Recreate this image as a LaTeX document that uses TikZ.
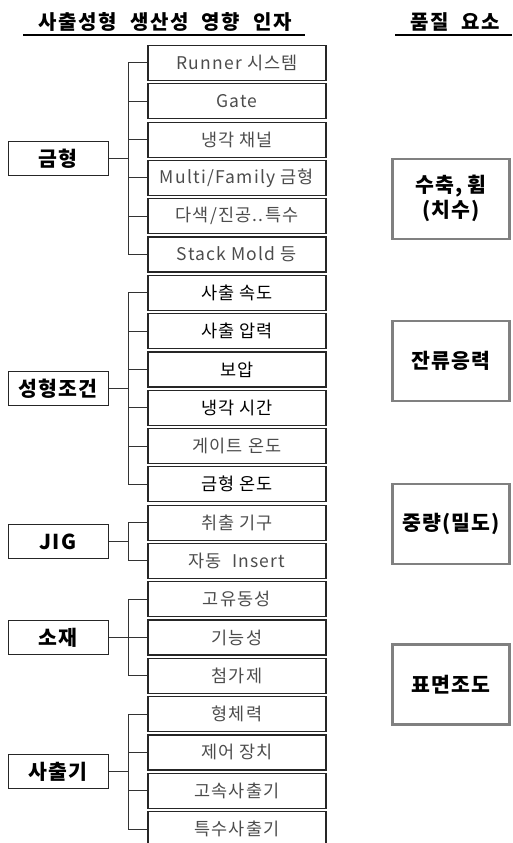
\documentclass[tikz,border=0pt]{standalone}
\usepackage{fontspec}
\setmainfont{Noto Sans CJK KR}
\newfontfamily\krchild[LetterSpace=7]{Noto Sans CJK KR}
\newfontfamily\krpar[LetterSpace=5]{Noto Sans CJK KR}
\newfontfamily\krtitle[LetterSpace=9,WordSpace=2]{Noto Sans CJK KR}
\begin{document}
\begin{tikzpicture}[x=1pt,y=-1pt,
  cbox/.style={draw=black!85, line width=1.2pt, minimum width=178pt, minimum height=35pt,
    inner sep=0pt, font=\krchild\fontsize{17.5}{20}\selectfont, text=black!70},
  cboxb/.style={cbox, text=black},
  pbox/.style={draw=black!85, line width=1pt, minimum width=100pt, minimum height=34pt,
    inner sep=0pt, font=\krpar\fontsize{20.5}{24}\selectfont\bfseries},
  qbox/.style={draw=black!50, line width=2.4pt, minimum width=117pt, minimum height=80pt,
    inner sep=0pt, align=center, font=\krpar\fontsize{20.5}{25}\selectfont\bfseries},
  title/.style={font=\krtitle\fontsize{20}{24}\selectfont\bfseries, inner sep=0pt},
  conn/.style={draw=black!80, line width=1pt},
  uline/.style={draw=black, line width=1.4pt}]
\useasboundingbox (0,0) rectangle (512,843);

% titles
\node[title] (t1) at (165,22) {사출성형 생산성 영향 인자};
\node[title] (t2) at (455,22) {품질 요소};
\draw[uline] (23,35) -- (305,35);
\draw[uline] (395,35) -- (512,35);

\coordinate (tk) at (128,0);

% children
\node[cbox]  (c0)  at (237,63.0)  {Runner 시스템};
\node[cbox]  (c1)  at (237,101.3) {Gate};
\node[cbox]  (c2)  at (237,139.6) {냉각 채널};
\node[cbox]  (c3)  at (237,177.9) {Multi/Family 금형};
\node[cbox]  (c4)  at (237,216.2) {다색/진공..특수};
\node[cbox]  (c5)  at (237,254.5) {Stack Mold 등};
\node[cboxb] (c6)  at (237,292.8) {사출 속도};
\node[cboxb] (c7)  at (237,331.1) {사출 압력};
\node[cboxb] (c8)  at (237,369.4) {보압};
\node[cboxb] (c9)  at (237,407.7) {냉각 시간};
\node[cbox]  (c10) at (237,446.0) {게이트 온도};
\node[cboxb] (c11) at (237,484.3) {금형 온도};
\node[cbox]  (c12) at (237,522.6) {취출 기구};
\node[cbox]  (c13) at (237,560.9) {자동 \ Insert};
\node[cbox]  (c14) at (237,599.2) {고유동성};
\node[cbox]  (c15) at (237,637.5) {기능성};
\node[cbox]  (c16) at (237,675.8) {첨가제};
\node[cbox]  (c17) at (237,714.1) {형체력};
\node[cbox]  (c18) at (237,752.4) {제어 장치};
\node[cbox]  (c19) at (237,790.7) {고속사출기};
\node[cbox]  (c20) at (237,829.0) {특수사출기};

% parents
\node[pbox] (p1) at (58,158.75) {금형};
\node[pbox] (p2) at (58,388.55) {성형조건};
\node[pbox] (p3) at (58,541.75) {JIG};
\node[pbox] (p4) at (58,637.5)  {소재};
\node[pbox] (p5) at (58,771.55) {사출기};

% connectors
\foreach \p/\a/\b in {p1/0/5, p2/6/11, p3/12/13, p4/14/16, p5/17/20}{
  \draw[conn] (\p.east) -- (\p.east -| tk);
  \draw[conn] (c\a.west) -- (c\a.west -| tk) -- (c\b.west -| tk) -- (c\b.west);
}
\foreach \i in {1,2,3,4,7,8,9,10,15,18,19}{
  \draw[conn] (c\i.west) -- (c\i.west -| tk);
}

% quality
\node[qbox] (q1) at (451,198.75) {수축, 휨\\(치수)};
\node[qbox] (q2) at (451,361.0) {잔류응력};
\node[qbox] (q3) at (451,523.75) {중량(밀도)};
\node[qbox] (q4) at (451,684.5) {표면조도};
\end{tikzpicture}
\end{document}
